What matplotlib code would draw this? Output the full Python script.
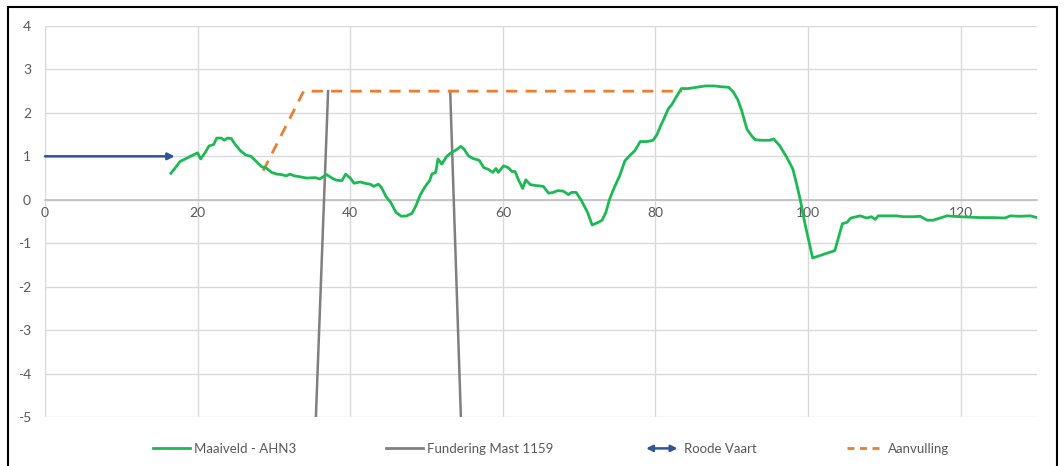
import numpy as np
import matplotlib
matplotlib.use("Agg")
import matplotlib.pyplot as plt
from matplotlib.patches import FancyArrowPatch, Rectangle
from matplotlib.legend_handler import HandlerBase
from matplotlib.lines import Line2D

plt.rcParams['font.family'] = ['Lato', 'DejaVu Sans']
plt.rcParams['axes.unicode_minus'] = False

# Maaiveld - AHN3 (x, y)
maaiveld_x = [16.5, 17.0, 17.7, 18.6, 19.4, 20.0, 20.4, 21.0, 21.5, 22.1, 22.5, 23.1, 23.5, 23.9, 24.4,
              24.9, 25.6, 26.3, 27.0, 27.7, 28.4, 29.0, 29.7, 30.4, 31.0, 31.6, 32.1, 32.7, 33.4, 34.3,
              35.4, 36.0, 36.9, 37.6, 38.2, 38.9, 39.4, 40.0, 40.5, 41.3, 41.9, 42.6, 43.1, 43.7, 44.1,
              44.7, 45.3, 46.0, 46.7, 47.4, 48.1, 48.6, 49.2, 49.8, 50.4, 50.7, 51.2, 51.5, 52.0, 52.6,
              53.2, 53.9, 54.5, 54.9, 55.5, 56.1, 56.9, 57.5, 58.1, 58.7, 59.1, 59.4, 60.1, 60.7, 61.2,
              61.6, 62.0, 62.6, 63.0, 63.6, 64.2, 65.3, 66.0, 66.6, 67.2, 67.9, 68.6, 69.0, 69.6, 70.3,
              71.1, 71.7, 72.5, 73.0, 73.5, 74.0, 74.6, 75.3, 76.0, 76.7, 77.3, 78.0, 78.9, 79.7, 80.2,
              80.6, 81.1, 81.7, 82.1, 82.7, 83.4, 84.3, 85.4, 86.5, 87.8, 88.7, 89.6, 90.2, 90.8, 91.3,
              92.0, 92.7, 93.1, 93.9, 95.0, 95.5, 96.3, 97.2, 98.0, 98.5, 99.0, 99.6, 100.6, 103.5, 104.5,
              105.1, 105.6, 106.8, 107.7, 108.3, 108.8, 109.2, 111.6, 112.5, 113.8, 114.7, 115.6, 116.4,
              117.3, 118.2, 119.9, 122.5, 124.3, 125.8, 126.5, 127.8, 129.1, 130.0]
maaiveld_y = [0.61, 0.72, 0.88, 0.96, 1.03, 1.08, 0.94, 1.09, 1.24, 1.27, 1.42, 1.42, 1.37, 1.42, 1.41,
              1.28, 1.13, 1.03, 1.00, 0.88, 0.76, 0.73, 0.63, 0.59, 0.58, 0.55, 0.59, 0.55, 0.53, 0.50,
              0.51, 0.48, 0.58, 0.50, 0.45, 0.44, 0.59, 0.50, 0.38, 0.41, 0.38, 0.36, 0.31, 0.36, 0.28,
              0.07, -0.06, -0.29, -0.38, -0.37, -0.31, -0.14, 0.12, 0.30, 0.44, 0.59, 0.63, 0.94, 0.82, 0.99,
              1.08, 1.15, 1.23, 1.17, 1.01, 0.95, 0.91, 0.74, 0.70, 0.63, 0.72, 0.63, 0.78, 0.74, 0.65,
              0.65, 0.48, 0.26, 0.46, 0.35, 0.33, 0.31, 0.15, 0.17, 0.21, 0.20, 0.12, 0.17, 0.17, -0.02,
              -0.29, -0.58, -0.52, -0.47, -0.29, 0.02, 0.28, 0.55, 0.90, 1.03, 1.13, 1.34, 1.34, 1.37, 1.50,
              1.67, 1.86, 2.10, 2.18, 2.36, 2.56, 2.56, 2.59, 2.62, 2.62, 2.60, 2.59, 2.48, 2.30, 2.05,
              1.62, 1.45, 1.38, 1.37, 1.37, 1.40, 1.24, 0.98, 0.71, 0.36, -0.02, -0.56, -1.34, -1.17, -0.55,
              -0.52, -0.42, -0.37, -0.42, -0.39, -0.45, -0.37, -0.37, -0.39, -0.39, -0.38, -0.47, -0.47,
              -0.42, -0.37, -0.39, -0.41, -0.41, -0.42, -0.37, -0.38, -0.37, -0.41]

# Fundering Mast 1159 (two legs)
fundering_x = [35.5, 37.1, np.nan, 53.1, 54.5]
fundering_y = [-5.0, 2.5, np.nan, 2.5, -5.0]

# Roode Vaart
roode_x = [0, 17]
roode_y = [1, 1]

# Aanvulling
aanvulling_x = [28.6, 33.9, 83.5]
aanvulling_y = [0.67, 2.5, 2.5]

c_green = '#1DB954'
c_gray = '#7F7F7F'
c_blue = '#2F5597'
c_orange = '#ED7D31'
c_text = '#595959'


class ArrowHandler(HandlerBase):
    def create_artists(self, legend, orig, xd, yd, w, h, fontsize, trans):
        a = FancyArrowPatch((xd, yd + h / 2), (xd + w, yd + h / 2), arrowstyle='<|-|>',
                            mutation_scale=9, color=c_blue, lw=1.8, transform=trans)
        return [a]


fig = plt.figure(figsize=(10.64, 4.66), dpi=100)
ax = fig.add_axes([45 / 1064, 1 - 417 / 466, (1037 - 45) / 1064, (417 - 26) / 466])

ax.plot(maaiveld_x, maaiveld_y, color=c_green, lw=2, zorder=4)
ax.plot(fundering_x, fundering_y, color=c_gray, lw=1.8, zorder=3)
ax.plot(aanvulling_x, aanvulling_y, color=c_orange, lw=2, dashes=(4, 3), zorder=3)
ax.annotate('', xy=(roode_x[1], roode_y[1]), xytext=(roode_x[0], roode_y[0]),
            arrowprops=dict(arrowstyle='-|>', color=c_blue, lw=1.8, mutation_scale=10,
                            shrinkA=0, shrinkB=0), zorder=4)

ax.set_xlim(0, 130)
ax.set_ylim(-5, 4)
ax.set_xticks(range(0, 121, 20))
ax.set_yticks(range(-5, 5))
ax.grid(True, color='#D9D9D9', lw=1)
ax.set_axisbelow(True)
for s in ['top', 'right', 'left']:
    ax.spines[s].set_visible(False)
ax.spines['bottom'].set_position(('data', 0))
ax.spines['bottom'].set_color('#BFBFBF')
ax.spines['bottom'].set_linewidth(1.2)
ax.tick_params(axis='both', length=0, colors=c_text, labelsize=10)
ax.tick_params(axis='y', pad=10)
ax.tick_params(axis='x', pad=5)

handles = [Line2D([], [], color=c_green, lw=2),
           Line2D([], [], color=c_gray, lw=2),
           Line2D([], [], color=c_blue, lw=2),
           Line2D([], [], color=c_orange, lw=2, dashes=(2.5, 2))]
labels = ['Maaiveld - AHN3', 'Fundering Mast 1159', 'Roode Vaart', 'Aanvulling']
leg = fig.legend(handles, labels, loc='center', bbox_to_anchor=(0.518, 1 - 449 / 466), ncol=4,
                 frameon=False, fontsize=9.5, handlelength=2.8, handletextpad=0.3,
                 columnspacing=6.8, labelcolor=c_text,
                 handler_map={handles[2]: ArrowHandler()})

fig.add_artist(Rectangle((8 / 1064, -0.05), (1057 - 8) / 1064, 1.05 - 7 / 466,
                         transform=fig.transFigure, fill=False, lw=1.5, color='black'))

fig.savefig('out.png', dpi=100)
